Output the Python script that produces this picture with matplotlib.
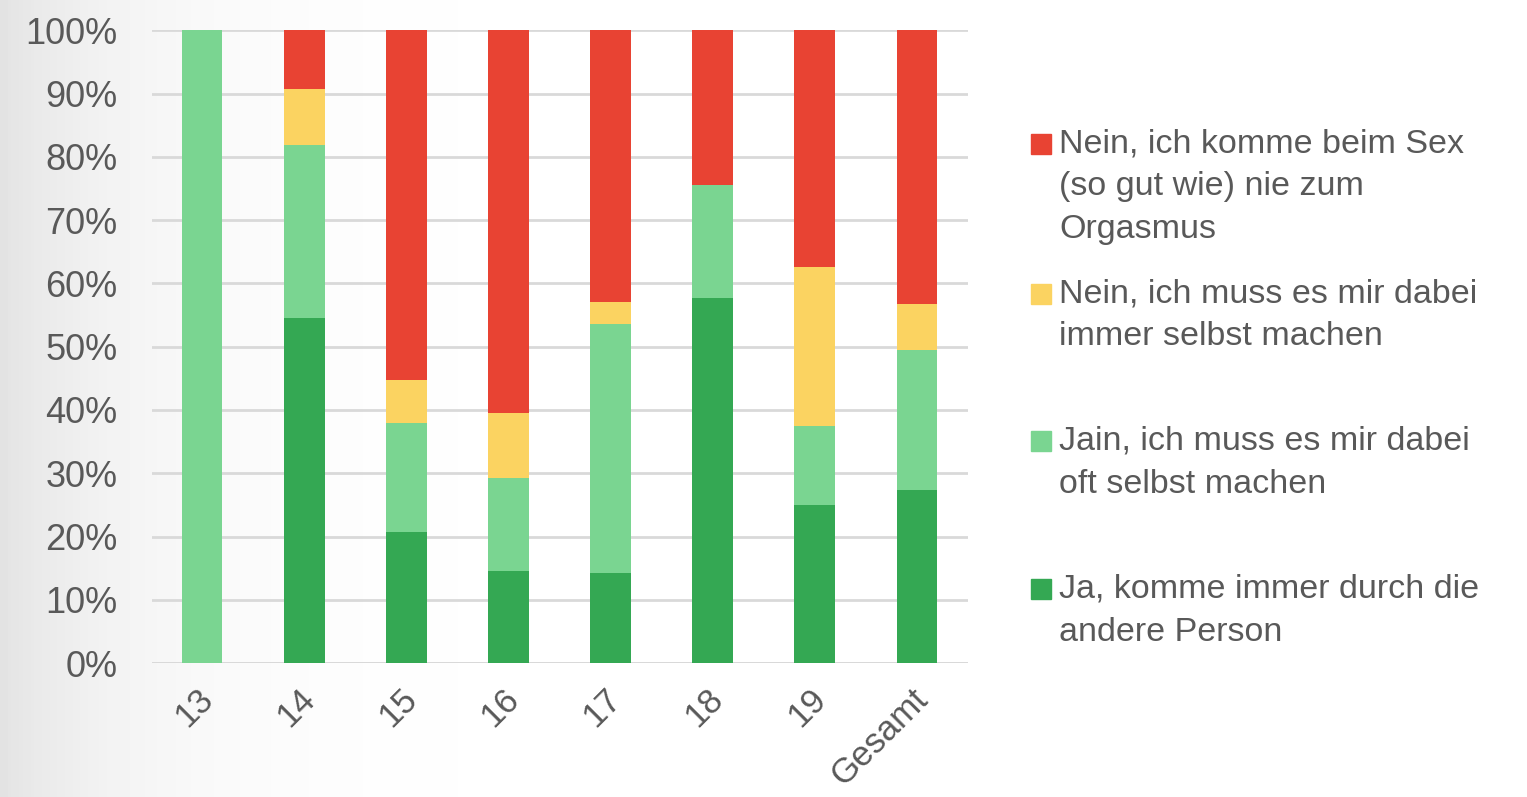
import numpy as np
import matplotlib
matplotlib.use("Agg")
import matplotlib.pyplot as plt
import matplotlib.transforms as mtransforms
from matplotlib.patches import Rectangle

plt.rcParams['font.family'] = ['Liberation Sans', 'DejaVu Sans']

categories = ['13', '14', '15', '16', '17', '18', '19', 'Gesamt']
ja_immer = [0.0, 54.5, 20.7, 14.5, 14.2, 57.7, 25.0, 27.3]
jain_oft = [100.0, 27.3, 17.2, 14.7, 39.4, 17.8, 12.4, 22.1]
nein_selbst = [0.0, 9.0, 6.8, 10.3, 3.4, 0.0, 25.2, 7.3]
nein_nie = [0.0, 9.2, 55.3, 60.5, 43.0, 24.5, 37.4, 43.3]

labels = [
    'Nein, ich komme beim Sex\n(so gut wie) nie zum\nOrgasmus',
    'Nein, ich muss es mir dabei\nimmer selbst machen',
    'Jain, ich muss es mir dabei\noft selbst machen',
    'Ja, komme immer durch die\nandere Person',
]
colors = {'ja': '#34A853', 'jain': '#7AD591', 'selbst': '#FBD361', 'nie': '#E84333'}

fig = plt.figure(figsize=(15.27, 7.97), dpi=100)

# soft blurred-photo style background
bg = fig.add_axes([0, 0, 1, 1], zorder=-10)
xx = np.linspace(0, 1, 400)
grad = 1 - 0.11 * np.exp(-xx / 0.09)
img = np.tile(grad, (200, 1))
bg.imshow(img, cmap='gray', vmin=0, vmax=1, aspect='auto', extent=[0, 1, 0, 1])
bg.axis('off')

ax = fig.add_axes([0.0995, 0.168, 0.5345, 0.794])
ax.patch.set_alpha(0)
x = np.arange(len(categories))
w = 0.4
b1 = np.array(ja_immer)
b2 = b1 + np.array(jain_oft)
b3 = b2 + np.array(nein_selbst)
ax.bar(x, ja_immer, w, color=colors['ja'], zorder=3)
ax.bar(x, jain_oft, w, bottom=b1, color=colors['jain'], zorder=3)
ax.bar(x, nein_selbst, w, bottom=b2, color=colors['selbst'], zorder=3)
ax.bar(x, nein_nie, w, bottom=b3, color=colors['nie'], zorder=3)

ax.set_xlim(-0.49, 7.5)
ax.set_ylim(0, 100)
ax.set_yticks(range(0, 101, 10))
ax.set_yticklabels([f'{v}%' for v in range(0, 101, 10)])
ax.yaxis.grid(True, color='#d9d9d9', linewidth=2, zorder=0)
for s in ax.spines.values():
    s.set_visible(False)
ax.tick_params(axis='both', length=0, colors='#595959', labelsize=26)
ax.tick_params(axis='y', pad=25)
ax.set_xticks(x)
ax.set_xticklabels(categories, rotation=45, ha='right', rotation_mode='anchor')
ax.tick_params(axis='x', pad=14, labelsize=25)
shift = mtransforms.ScaledTranslation(-6 / 100, 0, fig.dpi_scale_trans)
for t in ax.get_xticklabels():
    t.set_transform(t.get_transform() + shift)
ax.axhline(0, color='#d9d9d9', linewidth=2, zorder=1)

# legend
leg_y = [0.818, 0.630, 0.445, 0.259]
leg_cols = [colors['nie'], colors['selbst'], colors['jain'], colors['ja']]
for yy, c, lab in zip(leg_y, leg_cols, labels):
    fig.patches.append(Rectangle((1031 / 1527, yy - 0.011), 20 / 1527, 20 / 797,
                                 transform=fig.transFigure, color=c))
    fig.text(1059 / 1527, yy + 0.021, lab, fontsize=24.5, color='#595959',
             va='top', ha='left', linespacing=1.5)

fig.savefig('out.png', dpi=100)
